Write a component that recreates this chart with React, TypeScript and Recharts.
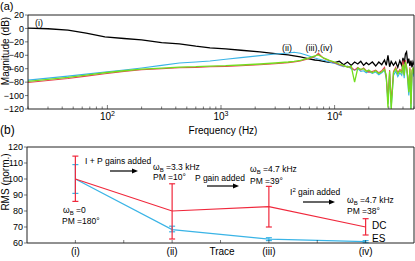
import { LineChart, Line, XAxis, YAxis, ErrorBar } from 'recharts';

// (a) closed-loop magnitude, one value per frequency for each trace
const freqs = [
  20, 30, 45, 65, 95, 140, 200, 300, 430, 600, 800, 1100, 1500, 2200, 3000, 3900, 4400, 5000, 5700, 6700,
  7200, 8000, 9000, 10000, 11000, 12000, 13000, 14000, 15000, 16000, 17000, 18000, 19000, 20000, 21500,
  23000, 24500, 26000, 27500, 28500, 29500, 30500, 31500, 33000, 34500, 36000, 37500, 39000, 40000, 41000,
  42000, 43000, 44000, 45000, 46000, 47000, 48000, 49000, 50000,
];
const traceI = [
  0.5, -0.5, -2.5, -7, -12.5, -15, -17, -21, -23, -26.5, -29, -30.5, -32.5, -35, -37.5, -39.5, -41, -42.5, -44.5, -47,
  -47.5, -49, -50.5, -51, -49, -54, -50, -55, -50, -53, -49, -55, -51, -54, -50,
  -56, -50, -54, -47, -55, -40, -57, -49, -55, -50, -58, -48, -55, -44, -53,
  -38, -35, -52, -45, -56, -48, -58, -50, -54,
];
const traceII = [
  -77, -74, -71, -68, -65, -62, -59, -55, -51.5, -50, -48.5, -46, -43.5, -40.5, -38, -36.5, -35.5, -37, -40, -44,
  -45.5, -47.5, -50, -52, -55, -57, -56, -60, -62, -60, -64, -63, -66, -64, -67,
  -65, -69, -66, -62, -75, -112, -68, -118, -70, -64, -72, -66, -70, -58, -74,
  -52, -60, -78, -100, -66, -120, -70, -64, -72,
];
const traceIII = [
  -80.5, -77.5, -74.5, -71, -67.5, -64, -61.5, -60, -58.5, -58, -57, -56.5, -55.5, -54, -52.5, -51, -50, -48.5, -46, -42,
  -37, -44.5, -48, -51, -54, -56, -57, -58, -62, -58, -62, -59, -63, -65, -64,
  -62, -66, -63, -58, -72, -105, -62, -110, -64, -58, -66, -61, -64, -48, -68,
  -47, -56, -70, -90, -58, -112, -62, -60, -66,
];
const traceIV = [
  -79, -76, -73, -69.5, -66, -63, -60.5, -59, -57.5, -57, -56, -55.5, -54.5, -53, -51.5, -50, -49, -47.5, -45, -41,
  -39.5, -44, -47.5, -50, -53, -55, -58, -56, -80, -59, -61, -60, -64, -62, -66,
  -63, -67, -65, -61, -70, -118, -64, -120, -66, -60, -68, -63, -66, -54, -70,
  -50, -58, -72, -95, -60, -120, -65, -58, -68,
];
const freqTicks = [
  20, 30, 40, 50, 60, 70, 80, 90, 100, 200, 300, 400, 500, 600, 700, 800, 900,
  1000, 2000, 3000, 4000, 5000, 6000, 7000, 8000, 9000, 10000, 20000, 30000, 40000, 50000,
];
const dbTicks = [-120, -100, -80, -60, -40, -20, 0, 20];

// (b) normalised RMS per trace
const traces = ['(i)', '(ii)', '(iii)', '(iv)'];
const dcRms = [100, 80, 82.7, 70];
const dcLow = [86, 62.5, 70, 65];
const dcHigh = [114.3, 97, 95.4, 75.2];
const esRms = [100, 68.4, 62.4, 60.8];
const esLow = [91, 67, 61.5, 60.2];
const esHigh = [109, 70.5, 63.3, 61.5];
const traceTicks = [1, 1.5, 2, 2.5, 3, 3.5, 4];
const rmsTicks = [60, 70, 80, 90, 100, 110, 120];

const bode = freqs.map((f, k) => ({ f, i: traceI[k], ii: traceII[k], iii: traceIII[k], iv: traceIV[k] }));
const rms = traces.map((t, k) => ({
  x: k + 1,
  dc: dcRms[k],
  dcErr: [dcRms[k] - dcLow[k], dcHigh[k] - dcRms[k]],
  es: esRms[k],
  esErr: [esRms[k] - esLow[k], esHigh[k] - esRms[k]],
}));

const AXIS = '#222';
const minus = (v: number) => String(v).replace('-', '\u2212');

const FreqTick = ({ x, y, payload }: any) => {
  const e = Math.log10(payload.value);
  const major = Math.abs(e - Math.round(e)) < 1e-6 && payload.value > 20 && payload.value < 50000;
  return (
    <g>
      <line x1={x} x2={x} y1={y} y2={y - (major ? 4 : 2.5)} stroke={AXIS} strokeWidth={0.6} />
      {major && (
        <text x={x} y={y + 11} textAnchor="middle" fontSize={10} fill="#000">
          10<tspan dy={-4} fontSize={7}>{Math.round(e)}</tspan>
        </text>
      )}
    </g>
  );
};

// left ticks point outwards, labels sit just left of them
const LeftTick = ({ x, y, payload }: any) => (
  <g>
    <line x1={x - 3} x2={x} y1={y} y2={y} stroke={AXIS} strokeWidth={0.6} />
    <text x={x - 4} y={y + 3.2} textAnchor="end" fontSize={9} fill="#000">{minus(payload.value)}</text>
  </g>
);

const RightTick = ({ x, y }: any) => (
  <line x1={x} x2={x - 3} y1={y} y2={y} stroke={AXIS} strokeWidth={0.6} />
);

const TraceTick = ({ x, y, payload }: any) => {
  const v = payload.value;
  const label = Number.isInteger(v) ? traces[v - 1] : null;
  return (
    <g>
      <line x1={x} x2={x} y1={y} y2={y - 3} stroke={AXIS} strokeWidth={0.6} />
      {label && (
        <text x={x} y={y + 12} textAnchor="middle" fontSize={10} fill="#000">{label}</text>
      )}
    </g>
  );
};

const Arrow = ({ x1, x2, y }: { x1: number; x2: number; y: number }) => (
  <g>
    <line x1={x1} x2={x2 - 5} y1={y} y2={y} stroke="#000" strokeWidth={1.2} />
    <polygon points={`${x2},${y} ${x2 - 6},${y - 2.6} ${x2 - 6},${y + 2.6}`} fill="#000" />
  </g>
);

const Wb = ({ x, y, v }: { x: number; y: number; v: string }) => (
  <text x={x} y={y} fontSize={8.5}>
    {'\u03c9'}<tspan fontSize={6} dy={2}>B</tspan><tspan dy={-2}>{' =' + v}</tspan>
  </text>
);

export default function App() {
  return (
    <div style={{ position: 'absolute', left: 0, top: 0, width: 415, height: 261, background: '#fff', fontFamily: '"Liberation Sans", Arial, sans-serif' }}>
      <div style={{ position: 'absolute', left: 0, top: 0 }}>
        <LineChart width={415} height={130} data={bode} margin={{ top: 14, right: 0, bottom: 20, left: 27 }}>
          <XAxis dataKey="f" type="number" scale="log" domain={[20, 50000]} allowDataOverflow ticks={freqTicks}
            height={1} tickSize={0} tickMargin={0} tickLine={false} tick={<FreqTick />} interval={0} stroke={AXIS} />
          <XAxis xAxisId="top" orientation="top" type="number" scale="log" domain={[20, 50000]} allowDataOverflow
            height={1} tick={false} tickLine={false} stroke={AXIS} />
          <YAxis type="number" domain={[-120, 20]} ticks={dbTicks} allowDataOverflow width={1} tickSize={0}
            tickMargin={0} tickLine={false} tick={<LeftTick />} interval={0} stroke={AXIS} />
          <YAxis yAxisId="right" orientation="right" type="number" domain={[-120, 20]} ticks={dbTicks} width={1}
            tickSize={0} tickMargin={0} tickLine={false} tick={<RightTick />} interval={0} stroke={AXIS} />
          <Line dataKey="i" stroke="#000" strokeWidth={1.3} dot={false} isAnimationActive={false} />
          <Line dataKey="ii" stroke="#3ab4e6" strokeWidth={1.1} dot={false} isAnimationActive={false} />
          <Line dataKey="iii" stroke="#ea4050" strokeWidth={1.1} dot={false} isAnimationActive={false} />
          <Line dataKey="iv" stroke="#72de1e" strokeWidth={1.3} dot={false} isAnimationActive={false} />
        </LineChart>
      </div>
      <div style={{ position: 'absolute', left: 0, top: 130 }}>
        <LineChart width={415} height={131} data={rms} margin={{ top: 16, right: 0, bottom: 17, left: 26 }}>
          <XAxis dataKey="x" type="number" domain={[0.5, 4.5]} ticks={traceTicks} height={1} tickSize={0}
            tickMargin={0} tickLine={false} tick={<TraceTick />} interval={0} stroke={AXIS} />
          <XAxis xAxisId="top" orientation="top" type="number" domain={[0.5, 4.5]} height={1} tick={false}
            tickLine={false} stroke={AXIS} />
          <YAxis type="number" domain={[60, 120]} ticks={rmsTicks} width={1} tickSize={0} tickMargin={0}
            tickLine={false} tick={<LeftTick />} interval={0} stroke={AXIS} />
          <YAxis yAxisId="right" orientation="right" type="number" domain={[60, 120]} ticks={rmsTicks} width={1}
            tickSize={0} tickMargin={0} tickLine={false} tick={<RightTick />} interval={0} stroke={AXIS} />
          <Line dataKey="es" stroke="#3ab4e6" strokeWidth={1.2} dot={false} isAnimationActive={false}>
            <ErrorBar dataKey="esErr" direction="y" width={3} stroke="#3ab4e6" strokeWidth={1.2} />
          </Line>
          <Line dataKey="dc" stroke="#f0283c" strokeWidth={1.2} dot={false} isAnimationActive={false}>
            <ErrorBar dataKey="dcErr" direction="y" width={3} stroke="#f0283c" strokeWidth={1.2} />
          </Line>
        </LineChart>
      </div>
      <svg width={415} height={261} style={{ position: 'absolute', left: 0, top: 0, pointerEvents: 'none' }} fill="#000">
        <text x={0} y={10} fontSize={11}>(a)</text>
        <text x={0} y={134} fontSize={12}>(b)</text>
        <text transform="translate(8.5,51) rotate(-90)" textAnchor="middle" fontSize={10}>Magnitude (dB)</text>
        <text transform="translate(8.5,182) rotate(-90)" textAnchor="middle" fontSize={10}>RMS (norm.)</text>
        <text x={223} y={134} textAnchor="middle" fontSize={10}>Frequency (Hz)</text>
        <text x={222} y={255} textAnchor="middle" fontSize={10}>Trace</text>

        <text x={35} y={26} fontSize={9}>(i)</text>
        <text x={287} y={51} textAnchor="middle" fontSize={9}>(ii)</text>
        <text x={319} y={51} textAnchor="middle" fontSize={9}>(iii),(iv)</text>

        <text x={85} y={164} fontSize={8.5}>I + P gains added</text>
        <Arrow x1={110} x2={138} y={171} />
        <Wb x={153} y={170} v="3.3 kHz" />
        <text x={153} y={180} fontSize={8.5}>PM =10°</text>

        <text x={195} y={181} fontSize={8.5}>P gain added</text>
        <Arrow x1={207} x2={239} y={186} />
        <Wb x={250} y={172} v="4.7 kHz" />
        <text x={250} y={184} fontSize={8.5}>PM =39°</text>

        <text x={290} y={195} fontSize={8.5}>I<tspan fontSize={6} dy={-3}>2</tspan><tspan dy={3}> gain added</tspan></text>
        <Arrow x1={303} x2={335} y={202} />
        <Wb x={347} y={203} v="4.7 kHz" />
        <text x={347} y={214} fontSize={8.5}>PM =38°</text>

        <Wb x={63} y={213} v="0" />
        <text x={62} y={224} fontSize={8.5}>PM =180°</text>

        <text x={372} y={229} fontSize={10}>DC</text>
        <text x={372} y={242} fontSize={10}>ES</text>
      </svg>
    </div>
  );
}
